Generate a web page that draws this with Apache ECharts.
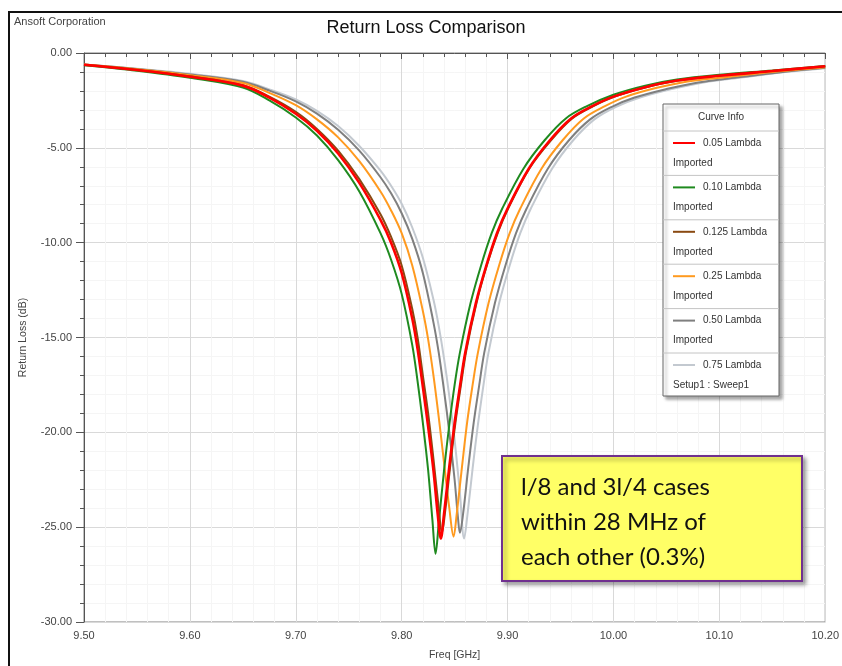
<!DOCTYPE html>
<html>
<head>
<meta charset="utf-8">
<title>Return Loss Comparison</title>
<style>
  html, body { margin: 0; padding: 0; background: #fff; }
  #chart { width: 842px; height: 666px; }
</style>
</head>
<body>
<div id="chart"></div>
<script src="https://cdn.jsdelivr.net/npm/echarts@6.0.0/dist/echarts.min.js"></script>
<script>
// curve data: [freq GHz, return loss dB]
var lambda005 = [[9.50,-0.62],[9.55,-0.90],[9.60,-1.25],[9.65,-1.72],[9.675,-2.35],[9.70,-3.2],[9.72,-4.1],[9.74,-5.3],[9.76,-6.85],[9.78,-8.8],[9.79,-10.0],[9.80,-11.6],[9.81,-14.0],[9.815,-15.6],[9.82,-17.6],[9.825,-19.7],[9.83,-22.0],[9.834,-24.3],[9.837,-25.6],[9.840,-24.3],[9.845,-21.8],[9.85,-19.5],[9.855,-17.6],[9.86,-15.8],[9.87,-13.2],[9.88,-11.2],[9.89,-9.5],[9.90,-8.2],[9.92,-6.1],[9.94,-4.6],[9.96,-3.45],[9.98,-2.8],[10.00,-2.3],[10.03,-1.8],[10.06,-1.45],[10.10,-1.2],[10.15,-0.95],[10.20,-0.7]];
var lambda010 = [[9.50,-0.64],[9.55,-0.93],[9.60,-1.3],[9.65,-1.82],[9.675,-2.5],[9.70,-3.4],[9.72,-4.35],[9.74,-5.65],[9.76,-7.3],[9.78,-9.5],[9.79,-10.9],[9.80,-12.7],[9.81,-15.4],[9.815,-17.3],[9.82,-19.5],[9.825,-22.0],[9.829,-24.6],[9.832,-26.4],[9.835,-24.8],[9.84,-22.0],[9.845,-19.6],[9.85,-17.5],[9.855,-15.8],[9.865,-13.2],[9.875,-11.2],[9.885,-9.5],[9.895,-8.2],[9.915,-6.1],[9.935,-4.6],[9.955,-3.45],[9.975,-2.8],[10.00,-2.2],[10.03,-1.72],[10.06,-1.4],[10.10,-1.15],[10.15,-0.92],[10.20,-0.68]];
var lambda0125 = [[9.50,-0.62],[9.55,-0.89],[9.60,-1.23],[9.65,-1.7],[9.675,-2.3],[9.70,-3.1],[9.72,-4.0],[9.74,-5.15],[9.76,-6.65],[9.78,-8.5],[9.79,-9.7],[9.80,-11.2],[9.81,-13.5],[9.815,-15.0],[9.82,-17.0],[9.825,-19.0],[9.83,-21.4],[9.835,-24.0],[9.838,-25.3],[9.841,-24.2],[9.846,-21.7],[9.851,-19.4],[9.856,-17.5],[9.861,-15.7],[9.871,-13.1],[9.881,-11.1],[9.891,-9.45],[9.901,-8.15],[9.921,-6.05],[9.941,-4.6],[9.961,-3.45],[9.981,-2.8],[10.00,-2.32],[10.03,-1.82],[10.06,-1.47],[10.10,-1.2],[10.15,-0.95],[10.20,-0.7]];
var lambda025 = [[9.50,-0.6],[9.55,-0.86],[9.60,-1.17],[9.65,-1.58],[9.675,-2.1],[9.70,-2.75],[9.72,-3.5],[9.74,-4.45],[9.76,-5.7],[9.78,-7.3],[9.79,-8.3],[9.80,-9.5],[9.81,-11.2],[9.82,-13.6],[9.825,-15.1],[9.83,-17.0],[9.835,-19.2],[9.84,-21.6],[9.845,-24.0],[9.849,-25.5],[9.852,-24.3],[9.857,-21.8],[9.862,-19.4],[9.867,-17.5],[9.872,-15.8],[9.882,-13.2],[9.892,-11.2],[9.902,-9.5],[9.912,-8.2],[9.932,-6.1],[9.952,-4.6],[9.972,-3.45],[9.992,-2.8],[10.012,-2.3],[10.04,-1.85],[10.07,-1.5],[10.11,-1.25],[10.15,-1.0],[10.20,-0.75]];
var lambda050 = [[9.50,-0.6],[9.55,-0.84],[9.60,-1.13],[9.65,-1.52],[9.675,-1.98],[9.70,-2.55],[9.72,-3.2],[9.74,-4.05],[9.76,-5.15],[9.78,-6.55],[9.79,-7.4],[9.80,-8.45],[9.81,-9.8],[9.82,-11.6],[9.83,-14.2],[9.835,-15.8],[9.84,-17.8],[9.845,-20.0],[9.85,-22.5],[9.853,-24.4],[9.855,-25.3],[9.858,-24.3],[9.863,-21.8],[9.868,-19.5],[9.873,-17.6],[9.878,-15.8],[9.888,-13.2],[9.898,-11.2],[9.908,-9.5],[9.918,-8.2],[9.938,-6.1],[9.958,-4.6],[9.978,-3.5],[9.998,-2.85],[10.02,-2.35],[10.05,-1.9],[10.08,-1.55],[10.12,-1.27],[10.16,-1.0],[10.20,-0.78]];
var lambda075 = [[9.50,-0.6],[9.55,-0.83],[9.60,-1.1],[9.65,-1.48],[9.675,-1.92],[9.70,-2.45],[9.72,-3.05],[9.74,-3.85],[9.76,-4.9],[9.78,-6.2],[9.79,-7.0],[9.80,-7.95],[9.81,-9.2],[9.82,-10.8],[9.83,-13.0],[9.835,-14.4],[9.84,-16.1],[9.845,-18.1],[9.85,-20.4],[9.855,-23.2],[9.859,-25.6],[9.862,-24.4],[9.867,-21.9],[9.872,-19.6],[9.877,-17.6],[9.882,-15.8],[9.892,-13.2],[9.902,-11.2],[9.912,-9.5],[9.922,-8.2],[9.942,-6.1],[9.962,-4.6],[9.982,-3.5],[10.002,-2.85],[10.025,-2.35],[10.055,-1.9],[10.085,-1.55],[10.125,-1.27],[10.16,-1.02],[10.20,-0.8]];

var curveNames = ['0.05 Lambda', '0.10 Lambda', '0.125 Lambda', '0.25 Lambda', '0.50 Lambda', '0.75 Lambda'];
var curveSources = ['Imported', 'Imported', 'Imported', 'Imported', 'Imported', 'Setup1 : Sweep1'];
var curveColors = ['#ff0000', '#1f8a1f', '#8a4a12', '#ff9a1f', '#7f7f7f', '#c3c9d0'];
var curveData = [lambda005, lambda010, lambda0125, lambda025, lambda050, lambda075];
var noteLines = ['l/8 and 3l/4 cases', 'within 28 MHz of', 'each other (0.3%)'];

var axisFont = "'Liberation Sans Narrow', 'Liberation Sans', Arial, sans-serif";

// draw order: grey curves underneath, red on top
var drawOrder = [5, 4, 3, 1, 2, 0];
var series = drawOrder.map(function (i) {
  return {
    name: curveNames[i],
    type: 'line',
    data: curveData[i],
    showSymbol: false,
    smooth: 0.35,
    lineStyle: { color: curveColors[i], width: i === 0 ? 2.6 : 2 },
    itemStyle: { color: curveColors[i] }
  };
});

// "Curve Info" box
var legendX = 663, legendY = 104, legendW = 116, legendH = 292;
var legendFont = "10px " + axisFont;
var legendItems = [
  { type: 'rect', z: 10, shape: { x: legendX, y: legendY, width: legendW, height: legendH },
    style: { fill: '#fff', stroke: '#666', lineWidth: 1, shadowBlur: 3, shadowOffsetX: 3, shadowOffsetY: 3, shadowColor: 'rgba(0,0,0,0.35)' } },
  { type: 'text', z: 11, x: legendX + legendW / 2, y: legendY + 13,
    style: { text: 'Curve Info', font: legendFont, fill: '#333', align: 'center', verticalAlign: 'middle' } }
];
curveNames.forEach(function (name, i) {
  var top = 131 + i * 44.4;
  legendItems.push({ type: 'line', z: 11, shape: { x1: legendX, y1: top, x2: legendX + legendW, y2: top },
    style: { stroke: '#c4c4c4', lineWidth: 1 } });
  legendItems.push({ type: 'line', z: 11, shape: { x1: 673, y1: top + 12, x2: 695, y2: top + 12 },
    style: { stroke: curveColors[i], lineWidth: 2 } });
  legendItems.push({ type: 'text', z: 11, x: 703, y: top + 12,
    style: { text: name, font: legendFont, fill: '#333', verticalAlign: 'middle' } });
  legendItems.push({ type: 'text', z: 11, x: 673, y: top + 32,
    style: { text: curveSources[i], font: legendFont, fill: '#333', verticalAlign: 'middle' } });
});

var chart = echarts.init(document.getElementById('chart'));
chart.setOption({
  animation: false,
  backgroundColor: '#fff',
  grid: { left: 84, top: 53, right: 16, bottom: 44, show: true, borderColor: '#808080', borderWidth: 1 },
  xAxis: {
    type: 'value', min: 9.5, max: 10.2, interval: 0.1,
    name: 'Freq [GHz]', nameLocation: 'middle', nameGap: 28,
    nameTextStyle: { fontFamily: axisFont, fontSize: 10.5, color: '#444' },
    axisLine: { lineStyle: { color: '#555' } },
    axisTick: { length: 6, lineStyle: { color: '#555' } },
    minorTick: { show: true, splitNumber: 5, length: 4, lineStyle: { color: '#555' } },
    axisLabel: { formatter: function (v) { return v.toFixed(2); }, fontFamily: axisFont, fontSize: 11, color: '#444', margin: 8 },
    splitLine: { show: true, lineStyle: { color: '#d9d9d9' } },
    minorSplitLine: { show: true, lineStyle: { color: '#f5f5f5' } }
  },
  yAxis: {
    type: 'value', min: -30, max: 0, interval: 5,
    name: 'Return Loss (dB)', nameLocation: 'middle', nameGap: 55,
    nameTextStyle: { fontFamily: axisFont, fontSize: 10.5, color: '#444' },
    axisLine: { show: true, lineStyle: { color: '#555' } },
    axisTick: { show: true, length: 8, lineStyle: { color: '#555' } },
    minorTick: { show: true, splitNumber: 5, length: 4, lineStyle: { color: '#555' } },
    axisLabel: { formatter: function (v) { return v.toFixed(2); }, fontFamily: axisFont, fontSize: 11, color: '#444', margin: 12 },
    splitLine: { show: true, lineStyle: { color: '#d9d9d9' } },
    minorSplitLine: { show: true, lineStyle: { color: '#f5f5f5' } }
  },
  series: series,
  graphic: [
    { type: 'rect', shape: { x: 9, y: 12, width: 900, height: 700 }, style: { fill: null, stroke: '#111', lineWidth: 2 }, z: 0 },
    { type: 'text', x: 14, y: 22, style: { text: 'Ansoft Corporation', font: "11px " + axisFont, fill: '#444', verticalAlign: 'middle' } },
    { type: 'text', x: 426, y: 28, style: { text: 'Return Loss Comparison', font: "18px 'Liberation Sans Narrow', 'Liberation Sans', Arial, sans-serif", fill: '#111', align: 'center', verticalAlign: 'middle' } },
    { type: 'group', children: legendItems },
    { type: 'rect', z: 10, shape: { x: 502, y: 456, width: 300, height: 125 },
      style: { fill: '#ffff66', stroke: '#70308f', lineWidth: 2, shadowBlur: 4, shadowOffsetX: 3, shadowOffsetY: 3, shadowColor: 'rgba(0,0,0,0.35)' } },
    { type: 'text', z: 11, x: 521, y: 470,
      style: { text: noteLines.join('\n'), font: "24px Lato, 'Open Sans', sans-serif", lineHeight: 35, fill: '#111', verticalAlign: 'top' } }
  ]
});
</script>
</body>
</html>
